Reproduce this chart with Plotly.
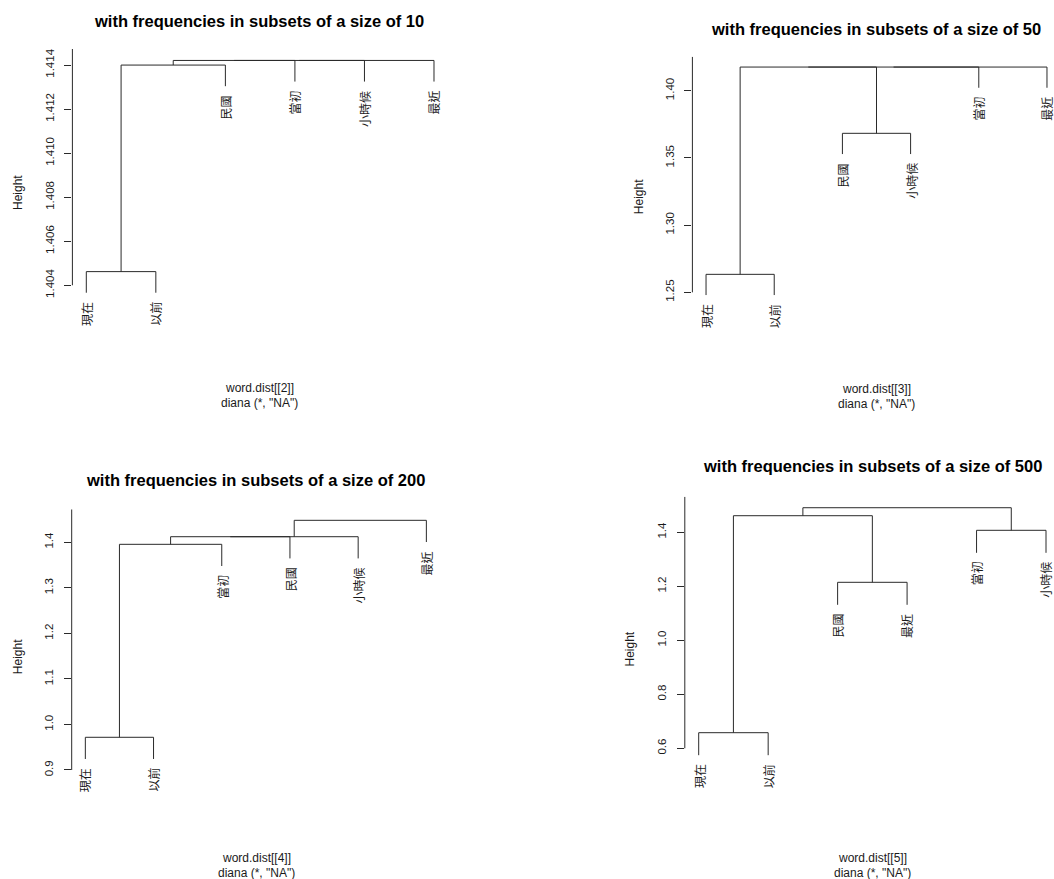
import plotly.graph_objects as go

W, H = 1054, 879

# ---------------- data ----------------
titles = ["with frequencies in subsets of a size of 10",
          "with frequencies in subsets of a size of 50",
          "with frequencies in subsets of a size of 200",
          "with frequencies in subsets of a size of 500"]
xlabels = ["word.dist[[2]]", "word.dist[[3]]", "word.dist[[4]]", "word.dist[[5]]"]
sublabel = 'diana (*, "NA")'

# leaf labels in plotting order
labels1 = ["現在", "以前", "民國", "當初", "小時候", "最近"]
labels2 = ["現在", "以前", "民國", "小時候", "當初", "最近"]
labels3 = ["現在", "以前", "當初", "民國", "小時候", "最近"]
labels4 = ["現在", "以前", "民國", "最近", "當初", "小時候"]

# merges (hclust style: negative = leaf position, positive = earlier merge)
merge1 = [(-1, -2), (1, -3), (2, -4), (3, -5), (4, -6)]
height1 = [1.40462, 1.41400, 1.41421, 1.41421, 1.41421]
merge2 = [(-1, -2), (-3, -4), (1, 2), (3, -5), (4, -6)]
height2 = [1.2634, 1.3683, 1.4176, 1.4176, 1.4176]
merge3 = [(-1, -2), (1, -3), (2, -4), (3, -5), (4, -6)]
height3 = [0.9718, 1.3956, 1.4123, 1.4123, 1.4483]
merge4 = [(-1, -2), (-3, -4), (1, 2), (-5, -6), (3, 4)]
height4 = [0.6578, 1.2148, 1.4615, 1.4074, 1.4911]

ticks1 = [1.404, 1.406, 1.408, 1.410, 1.412, 1.414]
ticktext1 = ["1.404", "1.406", "1.408", "1.410", "1.412", "1.414"]
ticks2 = [1.25, 1.30, 1.35, 1.40]
ticktext2 = ["1.25", "1.30", "1.35", "1.40"]
ticks3 = [0.9, 1.0, 1.1, 1.2, 1.3, 1.4]
ticktext3 = ["0.9", "1.0", "1.1", "1.2", "1.3", "1.4"]
ticks4 = [0.6, 0.8, 1.0, 1.2, 1.4]
ticktext4 = ["0.6", "0.8", "1.0", "1.2", "1.4"]

# ---------------- layout geometry (window pixels) ----------------
panels = [
    dict(px=(72.4, 447.9), py=(49, 337), xr=(0.8, 6.2), yr=(1.40165, 1.41473),
         title_xy=(259, 21), ylab_x=18, xlab_y=(388, 403), center_x=259),
    dict(px=(692.4, 1054), py=(56.7, 336.7), xr=(0.8, 6.103), yr=(1.217, 1.4253),
         title_xy=(876, 28.5), ylab_x=638.5, xlab_y=(388.5, 403.5), center_x=876),
    dict(px=(71.7, 440), py=(509.3, 804), xr=(0.8, 6.2), yr=(0.8253, 1.4725),
         title_xy=(255, 479.5), ylab_x=17.5, xlab_y=(857.5, 872.7), center_x=256),
    dict(px=(684.8, 1054), py=(496.7, 801.3), xr=(0.8, 6.115), yr=(0.4037, 1.5319),
         title_xy=(872, 466), ylab_x=629.5, xlab_y=(857.5, 872.7), center_x=872),
]

data = [(labels1, merge1, height1, ticks1, ticktext1),
        (labels2, merge2, height2, ticks2, ticktext2),
        (labels3, merge3, height3, ticks3, ticktext3),
        (labels4, merge4, height4, ticks4, ticktext4)]

LINE = "#2a2a2a"
TXT = "#1a1a1a"
FONT = "Liberation Sans, Arial, sans-serif"
CJK = "Noto Sans CJK TC, Noto Sans CJK SC, sans-serif"


def fx(px):
    return px / W


def fy(py):
    return 1 - py / H


fig = go.Figure()
annotations = []
shapes = []

for i, (p, (labs, merge, heights, tv, tt)) in enumerate(zip(panels, data), start=1):
    sfx = "" if i == 1 else str(i)
    xa = "x" + sfx
    ya = "y" + sfx
    hang = 0.1 * (max(heights) - min(heights))
    node_x, node_y = {}, {}
    xs, ys = [], []
    leaf_bottom = {}
    for k, ((a, b), h) in enumerate(zip(merge, heights), start=1):
        pts = []
        for c in (a, b):
            if c < 0:
                cx = -c
                cy = h - hang
                leaf_bottom[-c] = cy
            else:
                cx = node_x[c]
                cy = node_y[c]
            pts.append((cx, cy))
        (ax_, ay_), (bx_, by_) = pts
        xs += [ax_, ax_, bx_, bx_, None]
        ys += [ay_, h, h, by_, None]
        node_x[k] = (ax_ + bx_) / 2
        node_y[k] = h
    fig.add_trace(go.Scatter(x=xs, y=ys, mode="lines",
                             line=dict(color=LINE, width=1),
                             xaxis=xa, yaxis=ya, hoverinfo="skip",
                             showlegend=False))
    for pos, lab in enumerate(labs, start=1):
        annotations.append(dict(x=pos, y=leaf_bottom[pos], xref=xa, yref=ya,
                                text=lab, textangle=-90, showarrow=False,
                                xanchor="center", yanchor="top", yshift=-7,
                                font=dict(family=CJK, size=12, color=TXT)))
    x0, x1 = p["px"]
    y0, y1 = p["py"]
    fig.layout["xaxis" + sfx] = dict(domain=[max(0, fx(x0)), min(1, fx(x1))],
                                     range=list(p["xr"]),
                                     visible=False, anchor=ya, fixedrange=True)
    fig.layout["yaxis" + sfx] = dict(domain=[fy(y1), fy(y0)], range=list(p["yr"]),
                                     anchor=xa, tickmode="array", tickvals=tv,
                                     ticktext=tt, ticks="outside", ticklen=7,
                                     tickwidth=1, tickcolor=LINE, showline=False,
                                     showgrid=False, zeroline=False, tickangle=-90,
                                     ticklabelstandoff=6, fixedrange=True,
                                     tickfont=dict(family=FONT, size=11.5, color=TXT))
    shapes.append(dict(type="line", xref=xa + " domain", yref=ya,
                       x0=0, x1=0, y0=min(tv), y1=p["yr"][1],
                       line=dict(color=LINE, width=1)))
    tx, ty = p["title_xy"]
    annotations.append(dict(x=fx(tx), y=fy(ty), xref="paper", yref="paper",
                            text=f"<b>{titles[i-1]}</b>", showarrow=False,
                            xanchor="center", yanchor="middle",
                            font=dict(family=FONT, size=16.5, color="#000")))
    annotations.append(dict(x=fx(p["ylab_x"]), y=fy((y0 + y1) / 2), xref="paper",
                            yref="paper", text="Height", textangle=-90,
                            showarrow=False, xanchor="center", yanchor="middle",
                            font=dict(family=FONT, size=12, color=TXT)))
    for txt, yy in zip([xlabels[i-1], sublabel], p["xlab_y"]):
        annotations.append(dict(x=fx(p["center_x"]), y=fy(yy), xref="paper",
                                yref="paper", text=txt, showarrow=False,
                                xanchor="center", yanchor="middle",
                                font=dict(family=FONT, size=12, color=TXT)))

fig.update_layout(width=W, height=H, margin=dict(l=0, r=0, t=0, b=0),
                  paper_bgcolor="white", plot_bgcolor="white",
                  showlegend=False, annotations=annotations, shapes=shapes)
fig.write_html("out.html", config={"displayModeBar": False},
               post_script="document.body.style.margin='0';"
                           "document.body.style.overflow='hidden';")
